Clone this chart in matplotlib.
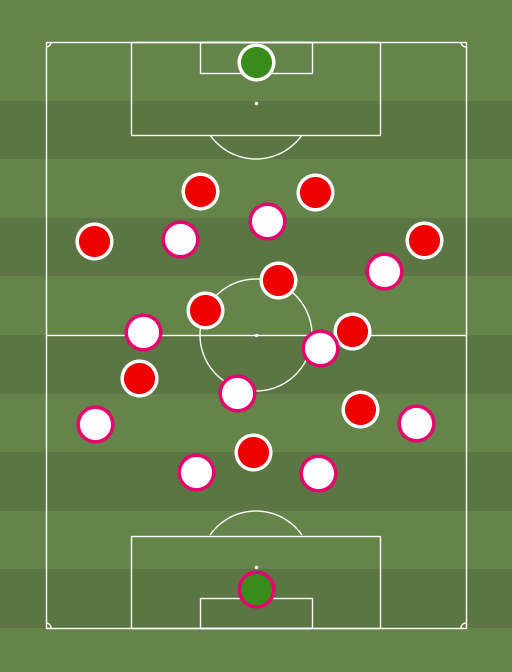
import numpy as np
import matplotlib.pyplot as plt
from matplotlib.patches import Circle, Rectangle, Arc

# player positions (pixel coordinates on the 512x672 picture)
red_x = [200, 315, 94, 424, 278, 205, 352, 139, 360, 253]
red_y = [191, 192, 241, 240, 280, 310, 331, 378, 409, 452]
white_x = [267, 180, 384, 143, 320, 237, 95, 416, 196, 318]
white_y = [221, 239, 271, 332, 348, 393, 424, 423, 472, 473]
gk_red = (256, 62)
gk_white = (256, 589)

grass_light = '#65844a'
grass_dark = '#5b7642'
pink = '#e8006f'

fig = plt.figure(figsize=(5.12, 6.72), dpi=100)
ax = fig.add_axes([0, 0, 1, 1])
ax.set_xlim(0, 512)
ax.set_ylim(672, 0)
ax.axis('off')
fig.patch.set_facecolor(grass_light)

# stripes
top, bot, left, right = 42, 628, 46, 466
band = (bot - top) / 10
for i in range(10):
    if i % 2 == 1:
        ax.add_patch(Rectangle((0, top + i * band), 512, band, color=grass_dark, lw=0))

lw = 1.0
lc = 'white'
ax.add_patch(Rectangle((left, top), right - left, bot - top, fill=False, ec=lc, lw=lw))
ax.plot([left, right], [335, 335], c=lc, lw=lw)
ax.add_patch(Circle((256, 335), 56, fill=False, ec=lc, lw=lw))
ax.plot(256, 335, 'o', c=lc, ms=1.5)

# penalty areas
ax.add_patch(Rectangle((131, top), 249, 93, fill=False, ec=lc, lw=lw))
ax.add_patch(Rectangle((200, top), 112, 31, fill=False, ec=lc, lw=lw))
ax.plot(256, 103, 'o', c=lc, ms=1.5)
ax.add_patch(Arc((256, 103), 112, 112, theta1=35, theta2=145, ec=lc, lw=lw))
ax.add_patch(Rectangle((131, 536), 249, bot - 536, fill=False, ec=lc, lw=lw))
ax.add_patch(Rectangle((200, 598), 112, bot - 598, fill=False, ec=lc, lw=lw))
ax.plot(256, 567, 'o', c=lc, ms=1.5)
ax.add_patch(Arc((256, 567), 112, 112, theta1=215, theta2=325, ec=lc, lw=lw))

# corner arcs
for cx, cy, t1 in [(left, top, 0), (right, top, 90), (right, bot, 180), (left, bot, 270)]:
    ax.add_patch(Arc((cx, cy), 10, 10, theta1=t1, theta2=t1 + 90, ec=lc, lw=lw))

ax.scatter(red_x, red_y, s=620, c='#ee0000', edgecolors='white', linewidths=2.5, zorder=5)
ax.scatter(white_x, white_y, s=620, c='white', edgecolors=pink, linewidths=2.5, zorder=5)
ax.scatter(*gk_red, s=620, c='#3a8c1a', edgecolors='white', linewidths=2.5, zorder=5)
ax.scatter(*gk_white, s=620, c='#3a8c1a', edgecolors=pink, linewidths=2.5, zorder=5)

fig.savefig('out.png', dpi=100, facecolor=fig.get_facecolor())
